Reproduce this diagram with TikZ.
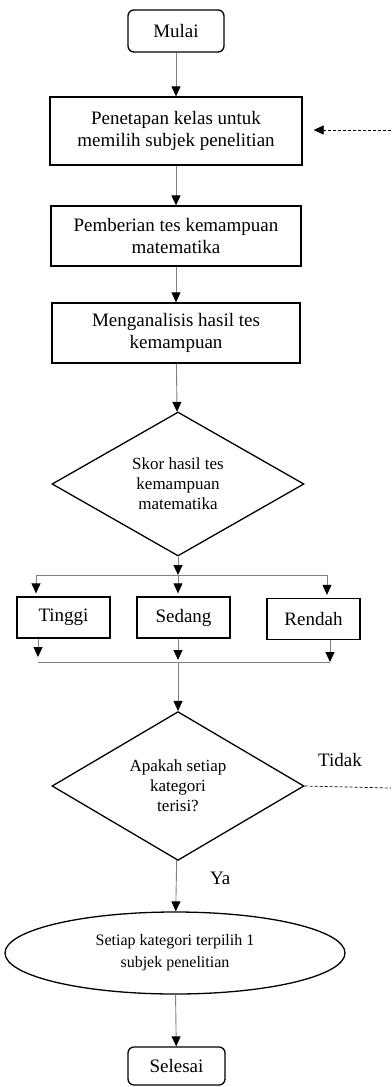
\documentclass[tikz,border=0pt]{standalone}
\usepackage{fontspec}
\setmainfont{Liberation Serif}
\usetikzlibrary{shapes}
\usetikzlibrary{positioning}
\usetikzlibrary{arrows.meta}
\tikzset{
    stepbox/.style = {rectangle, line width=1.3pt, draw=black, align=center, fill=white, font=\fontsize{19}{22}\selectfont},
    termbox/.style = {rectangle, rounded corners=6pt, line width=1.3pt, draw=black, align=center, font=\fontsize{19}{22}\selectfont},
    catbox/.style = {rectangle, line width=1.3pt, draw=black, minimum width=93pt, minimum height=41pt, font=\fontsize{19}{22}\selectfont},
    decide/.style = {diamond, line width=1.3pt, draw=black, align=center, inner sep=0pt, minimum width=252pt, font=\fontsize{17}{20}\selectfont},
    oval/.style = {ellipse, line width=1.3pt, draw=black, align=center, inner sep=0pt, font=\fontsize{16}{22}\selectfont},
    edgen/.style = {-{Triangle[black,length=10pt,width=9pt]}, line width=0.9pt, draw=black!50},
    edgel/.style = {line width=0.9pt, draw=black!50},
    edged/.style = {line width=0.7pt, draw=black, dash pattern=on 3pt off 2pt}, % back
    edgedn/.style = {-{Triangle[black,length=10pt,width=9pt]}, line width=0.7pt, draw=black, dash pattern=on 3pt off 2pt},
    lbl/.style = {font=\fontsize{19}{22}\selectfont}
}
\begin{document}
\begin{tikzpicture}[x=1pt,y=-1pt]
\useasboundingbox (0,0) rectangle (391,1087);
\node[termbox, minimum width=96pt, minimum height=42pt] at (176,31) (mulai) {Mulai};
\node[stepbox, minimum width=252pt, minimum height=68pt] at (176,131) (kelas) {Penetapan kelas untuk\\memilih subjek penelitian};
\node[stepbox, minimum width=250pt, minimum height=60pt] at (176,236) (tes) {Pemberian tes kemampuan\\matematika};
\node[stepbox, minimum width=248pt, minimum height=60pt] at (176,333) (analisis) {Menganalisis hasil tes\\kemampuan};
\node[decide, minimum height=144pt] at (178,484) (skor) {Skor hasil tes\\kemampuan\\matematika};
%
\node[catbox] at (63.5,617.5) (tinggi) {Tinggi};
\node[catbox] at (183.5,617.5) (sedang) {Sedang};
\node[catbox] at (313.5,619) (rendah) {Rendah};
%
\node[decide, minimum height=148pt] at (178,786) (terisi) {Apakah setiap\\kategori\\terisi?};
\node[oval, minimum width=340pt, minimum height=82pt] at (175,953) (pilih) {Setiap kategori terpilih 1\\subjek penelitian};
\node[termbox, minimum width=97pt, minimum height=38pt] at (176.5,1066) (selesai) {Selesai};
%
\coordinate (bagi) at (178,575);
\coordinate (bagiL) at (36,575);
\coordinate (bagiR) at (327,575);
\coordinate (gabung) at (178,662);
\coordinate (gabungL) at (38,662);
\coordinate (gabungR) at (330,662);
\coordinate (balikB) at (391,788);
\coordinate (balikA) at (391,130);
%
\draw[edgen] (mulai) -- (kelas);
\draw[edgen] (kelas) -- (tes);
\draw[edgen] (tes) -- (analisis);
\draw[edgen] (analisis) -- (skor);
\draw[edgen] (skor) -- (bagi);
\draw[edgel] (bagiL) -- (bagiR);
\draw[edgen, shorten >=3pt] (bagiL) -- (bagiL |- tinggi.north);
\draw[edgen, shorten >=3pt] (bagi) -- (bagi |- sedang.north);
\draw[edgen, shorten >=3pt] (bagiR) -- (bagiR |- rendah.north);
\draw[edgen, shorten >=5pt] (gabungL |- tinggi.south) -- (gabungL);
\draw[edgen, shorten >=2pt] (bagi |- sedang.south) -- (bagi |- gabung);
\draw[edgen] (gabungR |- rendah.south) -- (gabungR);
\draw[edgel] (gabungL) -- (gabungR);
\draw[edgen] (gabung) -- (terisi);
\draw[edgen] (terisi) -- node[lbl, right=30pt, pos=0.35] {Ya} (pilih);
\draw[edged] (terisi.east) -- (balikB);
\node[lbl] at (340,760) (tidak) {Tidak};
\draw[edgedn, shorten >=11pt] (balikA) -- (kelas.east |- balikA);
\draw[edgen] (pilih) -- (selesai);
\end{tikzpicture}
\end{document}
